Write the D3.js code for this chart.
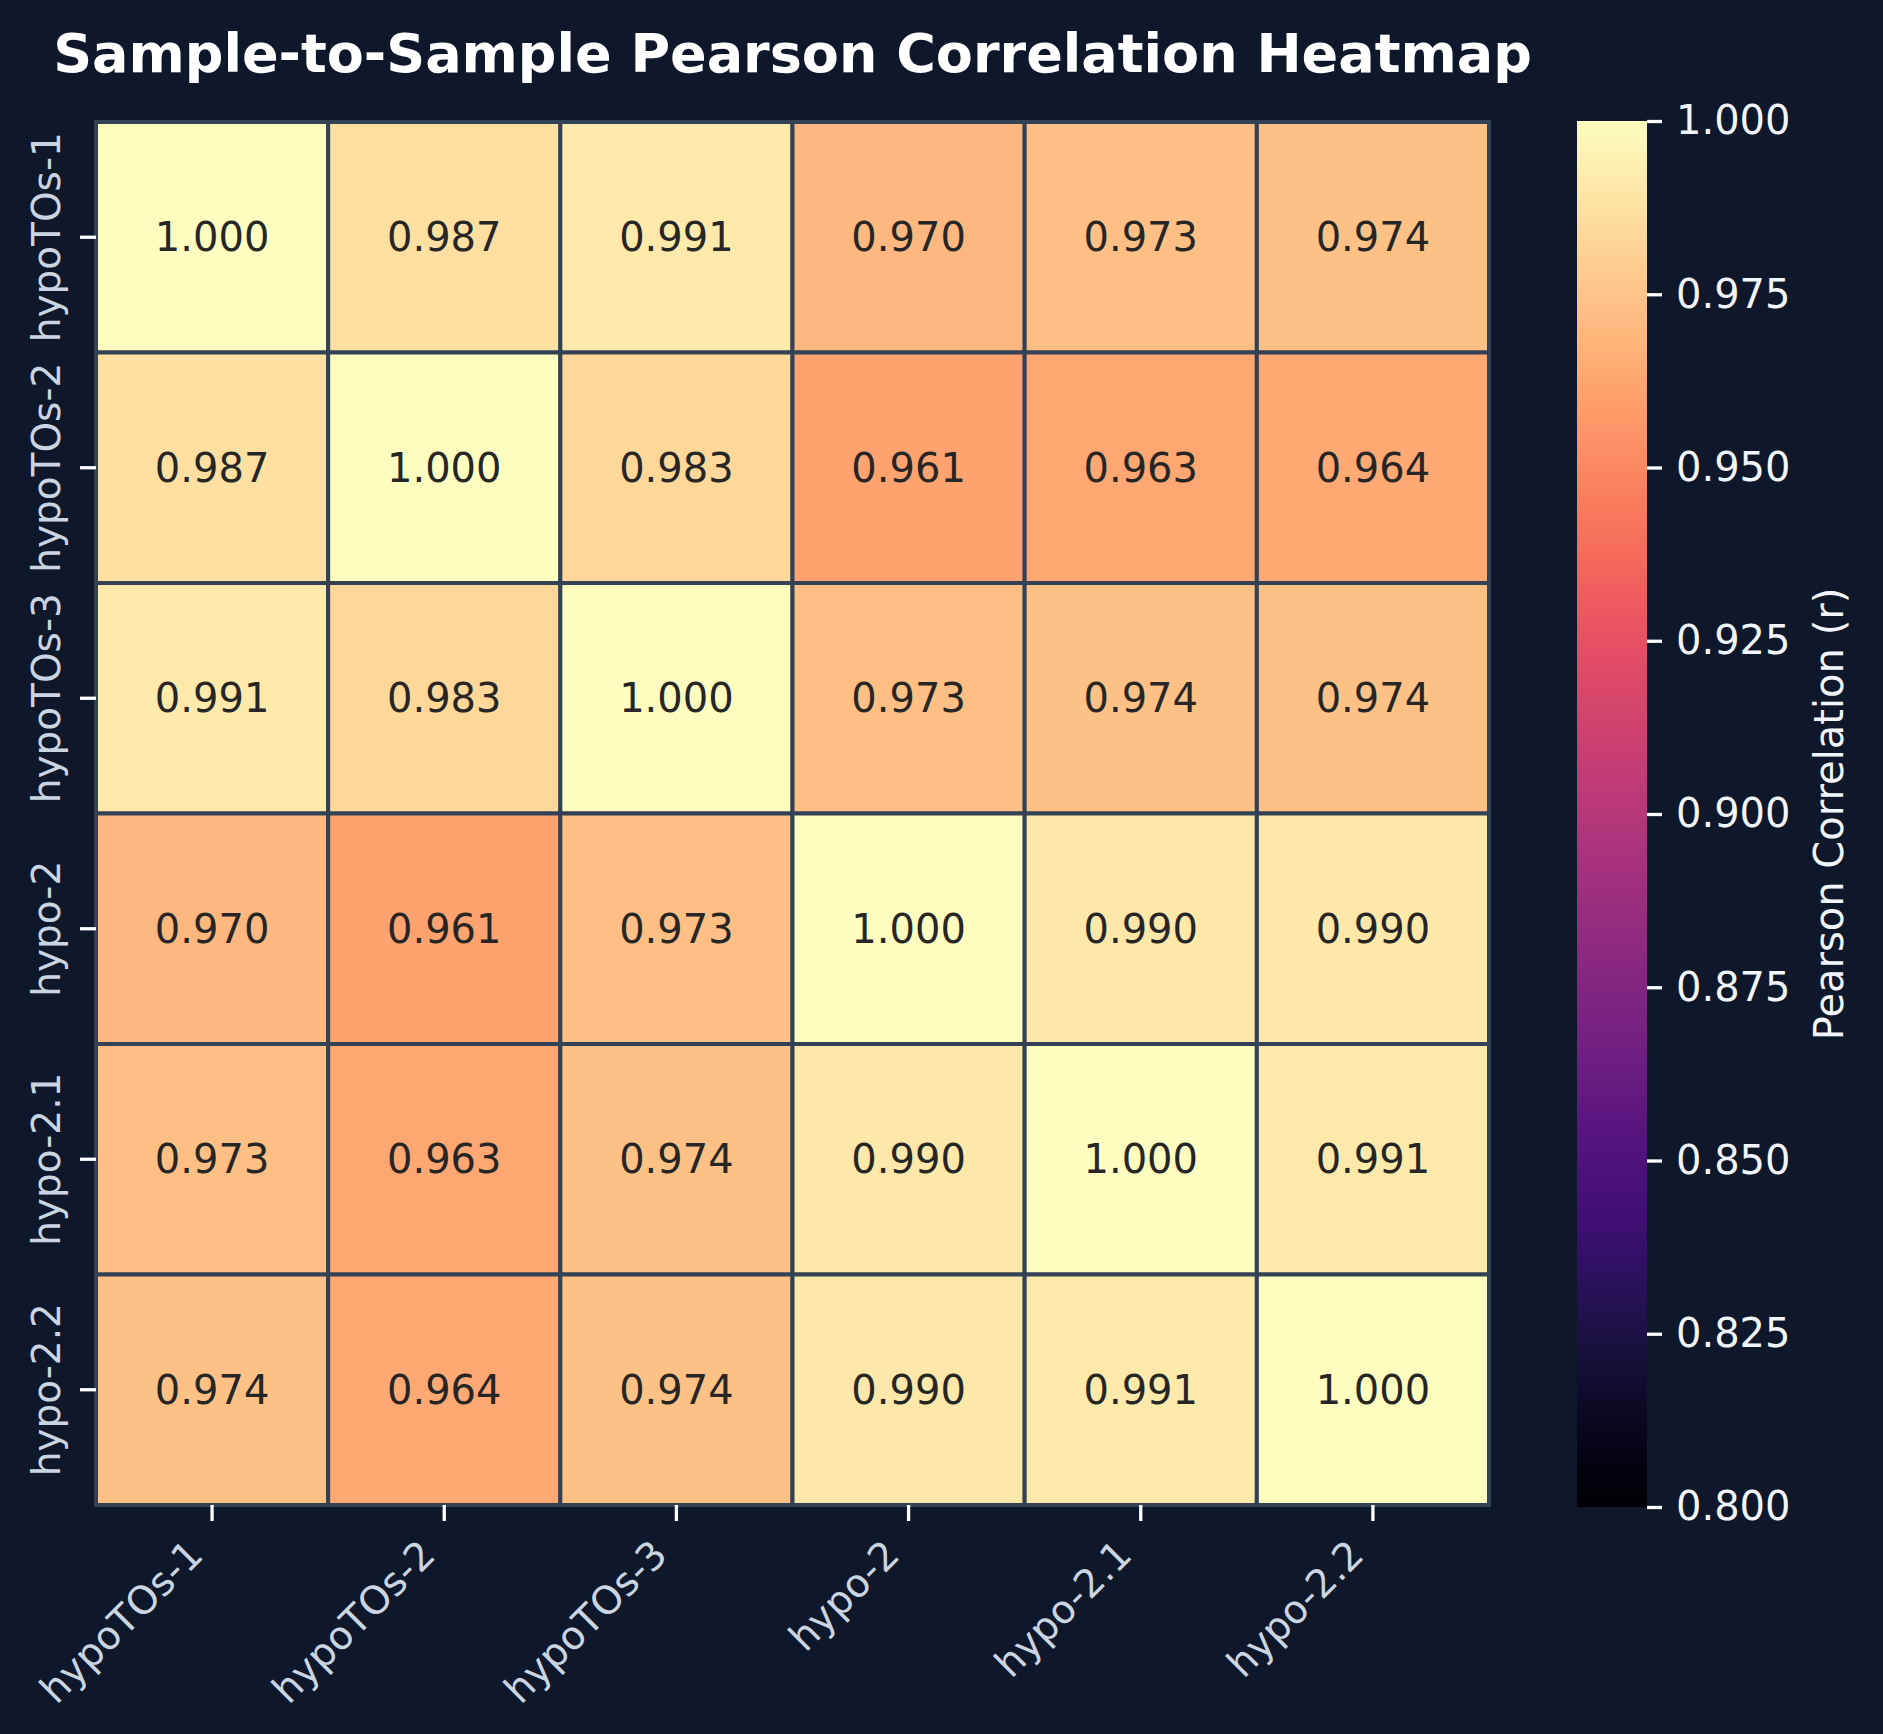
<!DOCTYPE html>
<html>
<head>
<meta charset="utf-8">
<style>
  body { margin: 0; background: #0f172a; }
  text { font-family: "DejaVu Sans", sans-serif; }
</style>
</head>
<body>
<script src="https://cdn.jsdelivr.net/npm/d3@7/dist/d3.min.js"></script>
<script>
// sample names and correlation matrix
const samples = ["hypoTOs-1", "hypoTOs-2", "hypoTOs-3", "hypo-2", "hypo-2.1", "hypo-2.2"];
const rowHypoTOs1 = [1.000, 0.987, 0.991, 0.970, 0.973, 0.974];
const rowHypoTOs2 = [0.987, 1.000, 0.983, 0.961, 0.963, 0.964];
const rowHypoTOs3 = [0.991, 0.983, 1.000, 0.973, 0.974, 0.974];
const rowHypo2    = [0.970, 0.961, 0.973, 1.000, 0.990, 0.990];
const rowHypo21   = [0.973, 0.963, 0.974, 0.990, 1.000, 0.991];
const rowHypo22   = [0.974, 0.964, 0.974, 0.990, 0.991, 1.000];
const matrix = [rowHypoTOs1, rowHypoTOs2, rowHypoTOs3, rowHypo2, rowHypo21, rowHypo22];
const colorTicks = [0.800, 0.825, 0.850, 0.875, 0.900, 0.925, 0.950, 0.975, 1.000];
const vmin = 0.8, vmax = 1.0;

const W = 1883, H = 1734;
const bg = "#0f172a";
const box = {left: 96, right: 1489, top: 122, bottom: 1505};
const cbar = {left: 1577, right: 1647, top: 121, bottom: 1507};

const svg = d3.select("body").append("svg")
    .attr("width", W)
    .attr("height", H)
    .style("display", "block");

svg.append("rect").attr("width", W).attr("height", H).attr("fill", bg);

const color = d3.scaleSequential(d3.interpolateMagma).domain([vmin, vmax]);

const x = d3.scaleBand().domain(samples).range([box.left, box.right]);
const y = d3.scaleBand().domain(samples).range([box.top, box.bottom]);

// flatten cells
const cells = [];
matrix.forEach((row, i) => {
    row.forEach((v, j) => cells.push({r: samples[i], c: samples[j], v: v}));
});

const g = svg.append("g");
g.selectAll("rect.cell").data(cells).enter()
    .append("rect")
    .attr("class", "cell")
    .attr("x", d => x(d.c))
    .attr("y", d => y(d.r))
    .attr("width", x.bandwidth())
    .attr("height", y.bandwidth())
    .attr("fill", d => color(d.v))
    .attr("stroke", "#334155")
    .attr("stroke-width", 4);

g.selectAll("text.val").data(cells).enter()
    .append("text")
    .attr("class", "val")
    .attr("x", d => x(d.c) + x.bandwidth() / 2)
    .attr("y", d => y(d.r) + y.bandwidth() / 2)
    .attr("text-anchor", "middle")
    .attr("dominant-baseline", "central")
    .attr("font-size", 40)
    .attr("fill", "#262626")
    .text(d => d3.format(".3f")(d.v));

// x axis
const xAxis = svg.append("g")
    .attr("transform", `translate(0,${box.bottom})`)
    .call(d3.axisBottom(x).tickSize(16).tickSizeOuter(0));
xAxis.select(".domain").remove();
xAxis.selectAll(".tick line").attr("stroke", "#ffffff").attr("stroke-width", 3.3);
xAxis.selectAll(".tick text")
    .attr("fill", "#cbd5e1")
    .attr("font-size", 39)
    .attr("text-anchor", "end")
    .attr("dy", null)
    .attr("y", null)
    .attr("transform", "translate(-7,52) rotate(-45)");

// y axis
const yAxis = svg.append("g")
    .attr("transform", `translate(${box.left},0)`)
    .call(d3.axisLeft(y).tickSize(16).tickSizeOuter(0));
yAxis.select(".domain").remove();
yAxis.selectAll(".tick line").attr("stroke", "#ffffff").attr("stroke-width", 3.3);
yAxis.selectAll(".tick text")
    .attr("fill", "#cbd5e1")
    .attr("font-size", 39)
    .attr("text-anchor", "middle")
    .attr("dy", null)
    .attr("x", null)
    .attr("transform", "translate(-36,0) rotate(-90)");

// colorbar
const defs = svg.append("defs");
const grad = defs.append("linearGradient")
    .attr("id", "cbgrad")
    .attr("x1", 0).attr("y1", 1).attr("x2", 0).attr("y2", 0);
d3.range(0, 1.0001, 0.02).forEach(t => {
    grad.append("stop")
        .attr("offset", t)
        .attr("stop-color", d3.interpolateMagma(t));
});
svg.append("rect")
    .attr("x", cbar.left)
    .attr("y", cbar.top)
    .attr("width", cbar.right - cbar.left)
    .attr("height", cbar.bottom - cbar.top)
    .attr("fill", "url(#cbgrad)");

const cy = d3.scaleLinear().domain([vmin, vmax]).range([cbar.bottom, cbar.top]);
const cAxis = svg.append("g")
    .attr("transform", `translate(${cbar.right},0)`)
    .call(d3.axisRight(cy).tickValues(colorTicks).tickFormat(d3.format(".3f")).tickSize(15).tickPadding(14));
cAxis.select(".domain").remove();
cAxis.selectAll(".tick line").attr("stroke", "#ffffff").attr("stroke-width", 3.3);
cAxis.selectAll(".tick text")
    .attr("fill", "#f1f5f9")
    .attr("font-size", 40);

svg.append("text")
    .attr("transform", `translate(1843,${(cbar.top + cbar.bottom) / 2}) rotate(-90)`)
    .attr("text-anchor", "middle")
    .attr("font-size", 40)
    .attr("fill", "#f1f5f9")
    .text("Pearson Correlation (r)");

// title
svg.append("text")
    .attr("x", (box.left + box.right) / 2)
    .attr("y", 72)
    .attr("text-anchor", "middle")
    .attr("font-size", 54)
    .attr("font-weight", "bold")
    .attr("fill", "#ffffff")
    .text("Sample-to-Sample Pearson Correlation Heatmap");
</script>
</body>
</html>
